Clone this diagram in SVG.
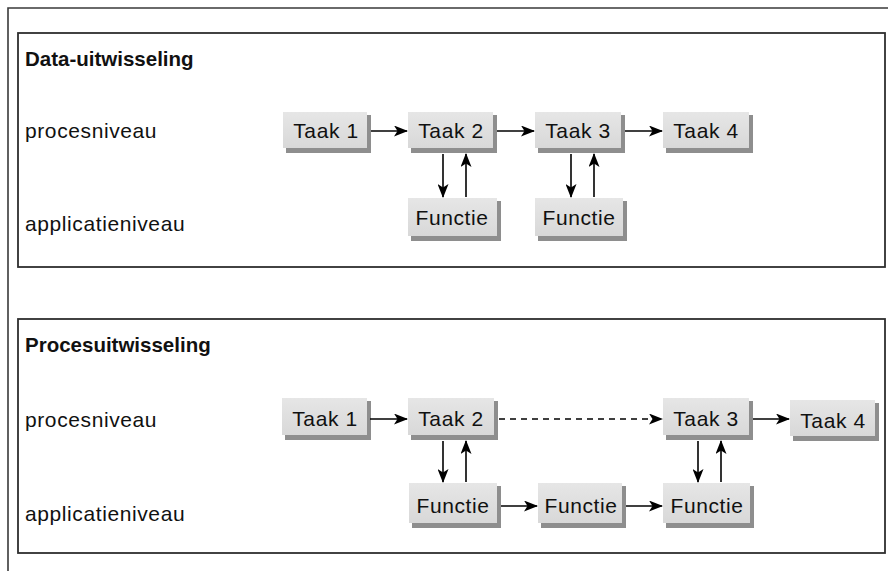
<svg xmlns="http://www.w3.org/2000/svg" width="888" height="571" viewBox="0 0 888 571">
  <defs>
    <style>
      .frame { fill: none; stroke: #3a3a3a; stroke-width: 1.6; }
      .panel { fill: #ffffff; stroke: #2e2e2e; stroke-width: 1.8; }
      .title { font-family: "Liberation Sans", Arial, sans-serif; font-size: 20.5px; font-weight: bold; fill: #111; }
      .lvl { font-family: "Liberation Sans", Arial, sans-serif; font-size: 21px; letter-spacing: 0.6px; fill: #111; }
      .lbl { font-family: "Liberation Sans", Arial, sans-serif; font-size: 21px; letter-spacing: 0.6px; fill: #111; text-anchor: middle; }
      .sh { fill: #8e8e8e; filter: url(#soft); }
      .bx { fill: url(#face); filter: url(#soft); }
      .ln { fill: none; stroke: #000; stroke-width: 1.6; marker-end: url(#ah); }
      .dash { stroke-dasharray: 6 5; }
    </style>
    <linearGradient id="face" x1="0" y1="0" x2="0" y2="1">
      <stop offset="0" stop-color="#e6e6e6"/>
      <stop offset="1" stop-color="#d8d8d8"/>
    </linearGradient>
    <filter id="soft" x="-10%" y="-20%" width="120%" height="140%">
      <feGaussianBlur stdDeviation="0.7"/>
    </filter>
    <marker id="ah" viewBox="0 0 14 11" refX="13" refY="5.5" markerWidth="14" markerHeight="11" markerUnits="userSpaceOnUse" orient="auto">
      <path d="M0,0 L14,5.5 L0,11 L3.5,5.5 z" fill="#000"/>
    </marker>
  </defs>

  <!-- outer frame -->
  <path class="frame" d="M888,8 H8 V571"/>

  <!-- panel: data exchange -->
  <g id="panel-data">
    <rect class="panel" x="18" y="33" width="867" height="234"/>
    <text class="title" x="25" y="66">Data-uitwisseling</text>
    <text class="lvl" x="25" y="138">procesniveau</text>
    <text class="lvl" x="25" y="231">applicatieniveau</text>
  </g>

  <!-- panel: process exchange -->
  <g id="panel-proces">
    <rect class="panel" x="18" y="319" width="867" height="234"/>
    <text class="title" x="25" y="352">Procesuitwisseling</text>
    <text class="lvl" x="25" y="427">procesniveau</text>
    <text class="lvl" x="25" y="521">applicatieniveau</text>
  </g>

  <!-- nodes, top panel -->
  <g id="d-taak1"><rect class="sh" x="286" y="115" width="85" height="38"/><rect class="bx" x="283" y="112" width="84" height="36"/><text class="lbl" x="326" y="138">Taak 1</text></g>
  <g id="d-taak2"><rect class="sh" x="411" y="115" width="86" height="38"/><rect class="bx" x="408" y="112" width="85" height="36"/><text class="lbl" x="451" y="138">Taak 2</text></g>
  <g id="d-taak3"><rect class="sh" x="538" y="115" width="87" height="38"/><rect class="bx" x="535" y="112" width="86" height="36"/><text class="lbl" x="578" y="138">Taak 3</text></g>
  <g id="d-taak4"><rect class="sh" x="666" y="115" width="87" height="38"/><rect class="bx" x="663" y="112" width="86" height="36"/><text class="lbl" x="706" y="138">Taak 4</text></g>
  <g id="d-functie1"><rect class="sh" x="411" y="201" width="90" height="40"/><rect class="bx" x="408" y="198" width="89" height="38"/><text class="lbl" x="452" y="225">Functie</text></g>
  <g id="d-functie2"><rect class="sh" x="538" y="201" width="89" height="40"/><rect class="bx" x="535" y="198" width="88" height="38"/><text class="lbl" x="579" y="225">Functie</text></g>

  <!-- nodes, bottom panel -->
  <g id="p-taak1"><rect class="sh" x="285" y="401" width="86" height="39"/><rect class="bx" x="282" y="398" width="85" height="37"/><text class="lbl" x="325" y="426">Taak 1</text></g>
  <g id="p-taak2"><rect class="sh" x="411" y="401" width="87" height="39"/><rect class="bx" x="408" y="398" width="86" height="37"/><text class="lbl" x="451" y="426">Taak 2</text></g>
  <g id="p-taak3"><rect class="sh" x="666" y="401" width="87" height="39"/><rect class="bx" x="663" y="398" width="86" height="37"/><text class="lbl" x="706" y="426">Taak 3</text></g>
  <g id="p-taak4"><rect class="sh" x="793" y="403" width="86" height="38"/><rect class="bx" x="790" y="400" width="85" height="36"/><text class="lbl" x="833" y="428">Taak 4</text></g>
  <g id="p-functie1"><rect class="sh" x="412" y="486" width="89" height="42"/><rect class="bx" x="409" y="483" width="88" height="40"/><text class="lbl" x="453" y="513">Functie</text></g>
  <g id="p-functie2"><rect class="sh" x="541" y="486" width="85" height="42"/><rect class="bx" x="538" y="483" width="84" height="40"/><text class="lbl" x="581" y="513">Functie</text></g>
  <g id="p-functie3"><rect class="sh" x="666" y="486" width="88" height="42"/><rect class="bx" x="663" y="483" width="87" height="40"/><text class="lbl" x="707" y="513">Functie</text></g>

  <!-- connectors -->
  <g id="connectors">
    <path class="ln" d="M371,131 H407"/>
    <path class="ln" d="M497,131 H534"/>
    <path class="ln" d="M625,131 H662"/>
    <path class="ln" d="M443,154 V197"/>
    <path class="ln" d="M466,197 V154"/>
    <path class="ln" d="M571,154 V197"/>
    <path class="ln" d="M594,197 V154"/>

    <path class="ln" d="M370,419 H407"/>
    <path class="ln dash" d="M499,419 H662"/>
    <path class="ln" d="M753,419 H789"/>
    <path class="ln" d="M443,441 V482"/>
    <path class="ln" d="M466,482 V441"/>
    <path class="ln" d="M698,441 V482"/>
    <path class="ln" d="M721,482 V441"/>
    <path class="ln" d="M501,506 H537"/>
    <path class="ln" d="M626,506 H662"/>
  </g>
</svg>
